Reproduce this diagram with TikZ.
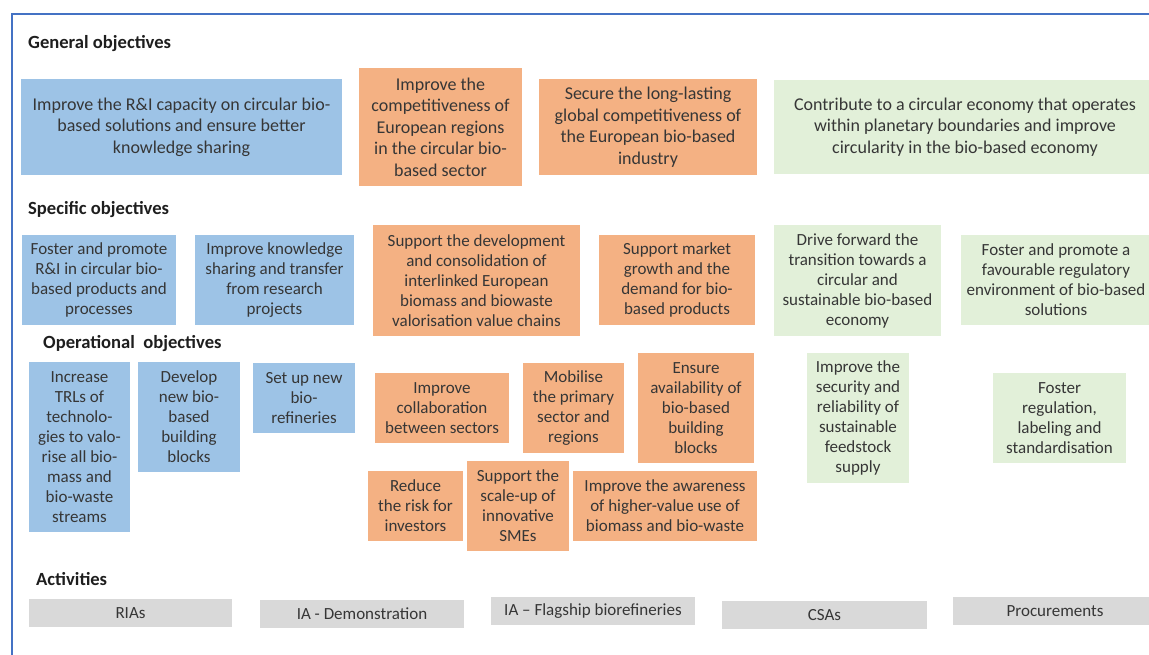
\documentclass[tikz,border=0pt]{standalone}
\usepackage{fontspec}
\setmainfont{Carlito}
\definecolor{framec}{HTML}{4472C4}
\definecolor{bluef}{HTML}{9DC3E6}
\definecolor{orangef}{HTML}{F4B183}
\definecolor{greenf}{HTML}{E2F0D9}
\definecolor{grayf}{HTML}{D9D9D9}
\definecolor{txt}{HTML}{363636}
\definecolor{headc}{HTML}{1E1E1E}
\newcommand{\bigboxfont}{\fontsize{18}{21.5}\selectfont}
\newcommand{\boxfont}{\fontsize{17}{20}\selectfont}
\newcommand{\headfont}{\fontsize{18.6}{22}\selectfont\bfseries}
\tikzset{
  x=1pt, y=-1pt,
  objbox/.style={inner sep=0pt, align=center, text=txt, font=\boxfont},
  bluebox/.style={objbox, fill=bluef},
  orangebox/.style={objbox, fill=orangef},
  greenbox/.style={objbox, fill=greenf},
  genbox/.style={font=\bigboxfont},
  actbox/.style={objbox, fill=grayf, minimum height=28pt},
  heading/.style={inner sep=0pt, anchor=west, text=headc, font=\headfont},
  frameline/.style={draw=framec, line width=2pt}
}
\begin{document}
\begin{tikzpicture}
\useasboundingbox (0,0) rectangle (1149,654);
\clip (0,0) rectangle (1149,654);

% outer frame (top and left edges)
\coordinate (fbl) at (11.5,660);
\coordinate (ftl) at (11.5,13.5);
\coordinate (ftr) at (1160,13.5);
\draw[frameline] (fbl) -- (ftl) -- (ftr);

% section headings
\node[heading] (hgen) at (28,44) {General objectives};
\node[heading] (hspec) at (28,210) {Specific objectives};
\node[heading] (hop) at (43,344) {Operational\ \ objectives};
\node[heading] (hact) at (36,579) {Activities};

% general objectives
\node[bluebox, genbox, minimum width=321pt, minimum height=96pt] (g1) at (181.5,127)
  {Improve the R\&I capacity on circular bio-\\based solutions and ensure better\\knowledge sharing};
\node[orangebox, genbox, minimum width=163pt, minimum height=118pt] (g2) at (440.5,127)
  {Improve the\\competitiveness of\\European regions\\in the circular bio-\\based sector};
\node[orangebox, genbox, minimum width=218pt, minimum height=96pt] (g3) at (648,127)
  {Secure the long-lasting\\global competitiveness of\\the European bio-based\\industry};
\node[greenbox, genbox, minimum width=382pt, minimum height=94pt] (g4) at (965,127)
  {Contribute to a circular economy that operates\\within planetary boundaries and improve\\circularity in the bio-based economy};

% specific objectives
\node[bluebox, minimum width=154pt, minimum height=90pt] (s1) at (99,280)
  {Foster and promote\\R\&I in circular bio-\\based products and\\processes};
\node[bluebox, minimum width=159pt, minimum height=90pt] (s2) at (274.5,280)
  {Improve knowledge\\sharing and transfer\\from research\\projects};
\node[orangebox, minimum width=207pt, minimum height=111pt] (s3) at (476.5,280.5)
  {Support the development\\and consolidation of\\interlinked European\\biomass and biowaste\\valorisation value chains};
\node[orangebox, minimum width=156pt, minimum height=90pt] (s4) at (677,280)
  {Support market\\growth and the\\demand for bio-\\based products};
\node[greenbox, minimum width=167pt, minimum height=111pt] (s5) at (857.5,280.5)
  {Drive forward the\\transition towards a\\circular and\\sustainable bio-based\\economy};
\node[greenbox, minimum width=190pt, minimum height=90pt] (s6) at (1056,280)
  {Foster and promote a\\favourable regulatory\\environment of bio-based\\solutions};

% operational objectives
\node[bluebox, minimum width=101pt, minimum height=170pt] (o1) at (79.5,447)
  {Increase\\TRLs of\\technolo-\\gies to valo-\\rise all bio-\\mass and\\bio-waste\\streams};
\node[bluebox, minimum width=102pt, minimum height=110pt] (o2) at (189,417)
  {Develop\\new bio-\\based\\building\\blocks};
\node[bluebox, minimum width=102pt, minimum height=70pt] (o3) at (304,398)
  {Set up new\\bio-\\refineries};
\node[orangebox, minimum width=134pt, minimum height=70pt] (o4) at (442,408)
  {Improve\\collaboration\\between sectors};
\node[orangebox, minimum width=101pt, minimum height=90pt] (o5) at (573.5,408)
  {Mobilise\\the primary\\sector and\\regions};
\node[orangebox, minimum width=116pt, minimum height=110pt] (o6) at (696,408)
  {Ensure\\availability of\\bio-based\\building\\blocks};
\node[orangebox, minimum width=95pt, minimum height=70pt] (o7) at (415.5,506)
  {Reduce\\the risk for\\investors};
\node[orangebox, minimum width=102pt, minimum height=90pt] (o8) at (518,506)
  {Support the\\scale-up of\\innovative\\SMEs};
\node[orangebox, minimum width=184pt, minimum height=70pt] (o9) at (665,506)
  {Improve the awareness\\of higher-value use of\\biomass and bio-waste};
\node[greenbox, minimum width=102pt, minimum height=130pt] (o10) at (858,418)
  {Improve the\\security and\\reliability of\\sustainable\\feedstock\\supply};
\node[greenbox, minimum width=133pt, minimum height=90pt] (o11) at (1059.5,418)
  {Foster\\regulation,\\labeling and\\standardisation};

% activities
\node[actbox, minimum width=203pt] (a1) at (130.5,613) {RIAs};
\node[actbox, minimum width=204pt] (a2) at (362,614) {IA - Demonstration};
\node[actbox, minimum width=204pt] (a3) at (593,611) {IA -- Flagship biorefineries};
\node[actbox, minimum width=205pt] (a4) at (824.5,615) {CSAs};
\node[actbox, minimum width=204pt] (a5) at (1055,611) {Procurements};
\end{tikzpicture}
\end{document}
